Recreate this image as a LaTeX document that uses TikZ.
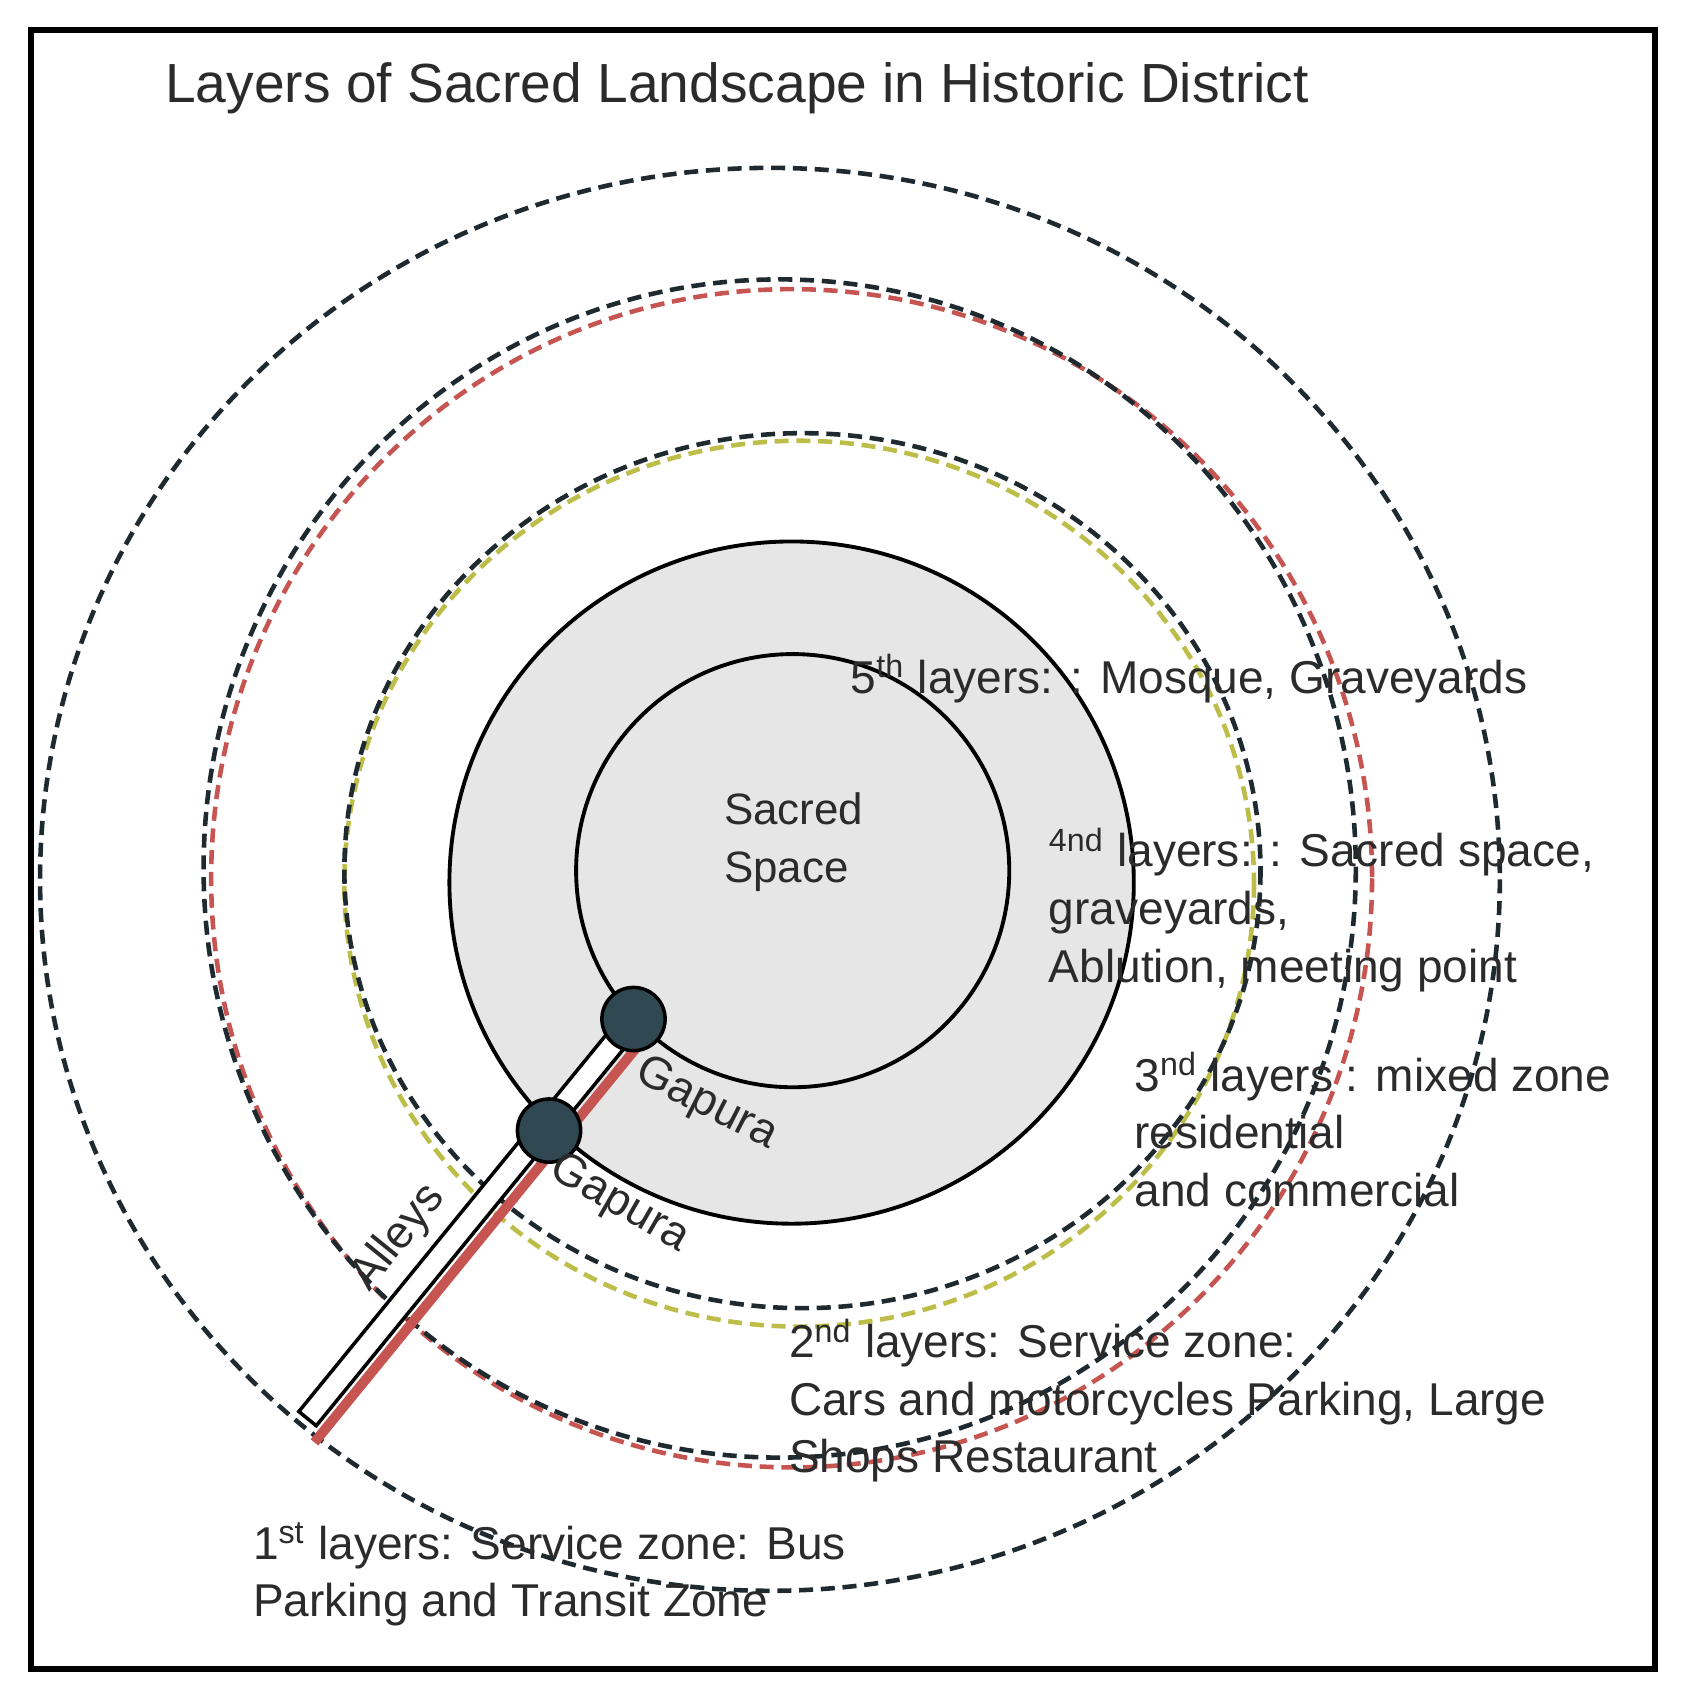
\documentclass[tikz,border=0pt]{standalone}
\usepackage{fontspec}
\setmainfont{Liberation Sans}
\usepackage{xcolor}
\usetikzlibrary{calc}

\definecolor{ringblack}{HTML}{1E2A30}
\definecolor{ringred}{HTML}{C65552}
\definecolor{ringyellow}{HTML}{BDBD4A}
\definecolor{coregray}{HTML}{E6E6E6}
\definecolor{gatedot}{HTML}{2F4852}
\definecolor{labelgray}{HTML}{2B2B2B}

\begin{document}
\begin{tikzpicture}[x=0.010827cm, y=-0.010827cm,
    layer/.style={line width=1.3pt, dash pattern=on 4pt off 2.2pt},
    lbl/.style={anchor=base west, inner sep=0pt, align=left, text=labelgray,
        font=\fontsize{13.1}{16.4}\selectfont},
    gapura/.style={circle, draw=black, fill=gatedot, line width=1pt,
        minimum size=18pt, inner sep=0pt}]
    \useasboundingbox (0,0) rectangle (1560,1568);

    % Frame and title
    \draw[line width=1.7pt] (29,28) rectangle (1528,1541);
    \node[anchor=base west, inner sep=0pt, text=labelgray,
        font=\fontsize{15.7}{18}\selectfont] (title) at (152,95)
        {Layers of Sacred Landscape in Historic District};

    % Core: 4th and 5th layers
    \fill[coregray] (731,815) ellipse [x radius=316, y radius=315];
    \draw[line width=1.1pt] (731,815) ellipse [x radius=316, y radius=315];
    \draw[line width=1.1pt] (732,804) circle [radius=200];

    % 3rd layer
    \draw[layer, ringyellow] (738,816) ellipse [x radius=420, y radius=409];
    \draw[layer, ringblack] (741,804) ellipse [x radius=423, y radius=404];

    % 2nd layer
    \draw[layer, ringred] (731,811) ellipse [x radius=536, y radius=544];
    \draw[layer, ringblack] (720,802) ellipse [x radius=532, y radius=544];

    % 1st layer
    \draw[layer, ringblack] (711,812) ellipse [x radius=674, y radius=657];

    % Alley from the gates out to the edge
    \coordinate (gIn) at (585,941);
    \coordinate (aEnd) at (284,1310);
    \coordinate (redEnd) at ($(aEnd)!-4pt!(gIn)$);
    \filldraw[fill=white, draw=black, line width=1pt]
        ($(gIn)!3.2pt!90:(aEnd)$) -- ($(gIn)!3.2pt!-90:(aEnd)$)
        -- ($(aEnd)!3.2pt!90:(gIn)$) -- ($(aEnd)!3.2pt!-90:(gIn)$) -- cycle;
    \draw[ringred, line width=2.8pt]
        ($(gIn)!5.8pt!90:(redEnd)$) -- ($(redEnd)!5.8pt!-90:(gIn)$);

    % Gates
    \node[gapura] (gateIn) at (gIn) {};
    \node[gapura] (gateOut) at (507,1044) {};

    % Labels (base is the last line)
    \node[lbl, font=\fontsize{12.5}{16.4}\selectfont] (core) at (668,815) {Sacred\\Space};
    \node[lbl] (fifth) at (785,640) {5\textsuperscript{th} layers: : Mosque, Graveyards};
    \node[lbl] (fourth) at (968,907)
        {\textsuperscript{4nd} layers: : Sacred space,\\graveyards,\\Ablution, meeting point};
    \node[lbl] (third) at (1047,1114)
        {3\textsuperscript{nd} layers : mixed zone\\residential\\and commercial};
    \node[lbl] (second) at (728,1360)
        {2\textsuperscript{nd} layers: Service zone:\\Cars and motorcycles Parking, Large\\Shops Restaurant};
    \node[lbl] (first) at (233,1493)
        {1\textsuperscript{st} layers: Service zone: Bus\\Parking and Transit Zone};

    \node[text=labelgray, font=\fontsize{13}{16}\selectfont, rotate=-27] (gapuraIn) at (652,1020) {Gapura};
    \node[text=labelgray, font=\fontsize{13}{16}\selectfont, rotate=-30] (gapuraOut) at (572,1112) {Gapura};
    \node[text=labelgray, font=\fontsize{13}{16}\selectfont, rotate=51] (alleys) at (368,1143) {Alleys};
\end{tikzpicture}
\end{document}
